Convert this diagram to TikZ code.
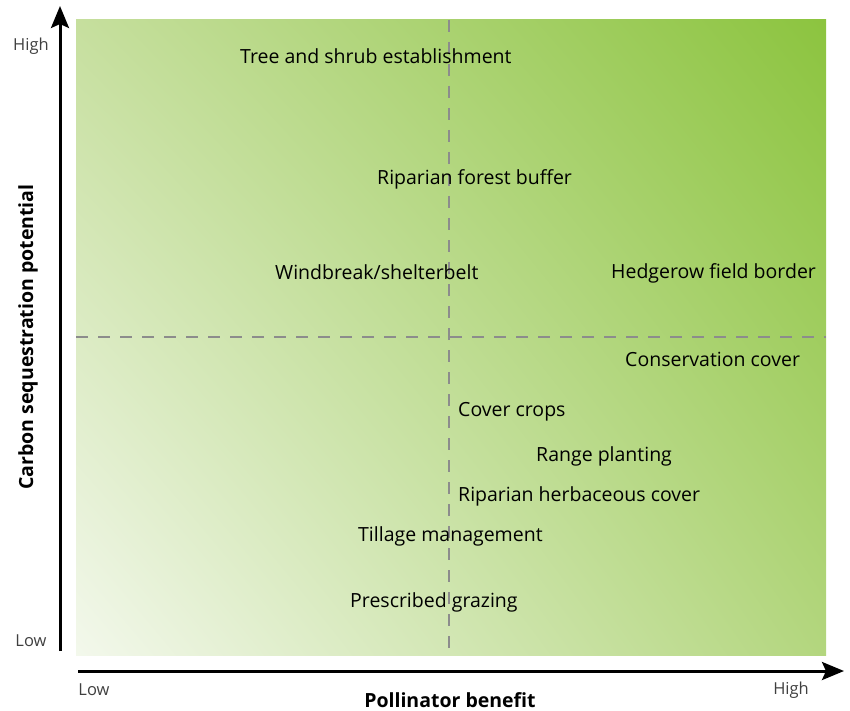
\documentclass[tikz,border=0pt]{standalone}
\usepackage{fontspec}
\setmainfont{Open Sans}
\usepackage{tikz}
\usetikzlibrary{arrows.meta, shadings}
\definecolor{greenhigh}{HTML}{8CC43F}
\definecolor{greenlow}{HTML}{F3F8EC}
\definecolor{greenul}{HTML}{C6DF9E}
\definecolor{greenlr}{HTML}{B3D67E}
\definecolor{ticktext}{HTML}{404040}
\definecolor{splitline}{HTML}{8C8C8C}
\tikzset{
    practice/.style={anchor=west, inner sep=0pt, yshift=-1.5pt, font=\fontsize{19.5}{22}\selectfont},
    tick/.style={inner sep=0pt, text=ticktext, font=\fontsize{16.5}{19}\selectfont},
    axislabel/.style={inner sep=0pt, font=\bfseries\fontsize{19.5}{22}\selectfont},
    axis/.style={line width=3pt, -{Stealth[length=22pt,width=18pt,inset=4pt]}},
    split/.style={draw=splitline, line width=1.3pt, dash pattern=on 12pt off 10pt}
}

\begin{document}
\begin{tikzpicture}[x=1pt, y=-1pt]
    \useasboundingbox (0, 0) rectangle (850, 711);
    \shade[lower left=greenlow, upper right=greenhigh, upper left=greenul, lower right=greenlr] (76, 20) rectangle (826, 655);
    \path (76, 20) coordinate(tl) (826, 20) coordinate(tr) (76, 655) coordinate(bl) (826, 655) coordinate(br) (449, 20) coordinate(mt) (449, 655) coordinate(mb) (76, 337) coordinate(ml) (826, 337) coordinate(mr);
    \draw[split] (mt) -- (mb);
    \draw[split] (ml) -- (mr);
    \path (60, 651) coordinate(yfrom) (60, 6) coordinate(yto) (78, 671) coordinate(xfrom) (844, 671) coordinate(xto);
    \draw[axis] (yfrom) -- (yto);
    \draw[axis] (xfrom) -- (xto);
    \path (31, 46) node[tick](yhigh) {High} (31, 641) node[tick](ylow) {Low} (94, 690) node[tick](xlow) {Low} (791, 690) node[tick](xhigh) {High};
    \path (450, 700) node[axislabel](xlabel) {Pollinator benefit} (28, 337) node[axislabel, rotate=90](ylabel) {Carbon sequestration potential};
    \path (240, 55) node[practice](tree) {Tree and shrub establishment} (377, 178) node[practice](forest) {Riparian forest buffer} (275, 271) node[practice](wind) {Windbreak/shelterbelt} (611, 272) node[practice](hedge) {Hedgerow field border} (625, 358) node[practice](conserv) {Conservation cover} (458, 410) node[practice](cover) {Cover crops} (536, 455) node[practice](range) {Range planting} (458, 495) node[practice](herb) {Riparian herbaceous cover} (358, 535) node[practice](tillage) {Tillage management} (350, 601) node[practice](grazing) {Prescribed grazing};
\end{tikzpicture}
\end{document}
